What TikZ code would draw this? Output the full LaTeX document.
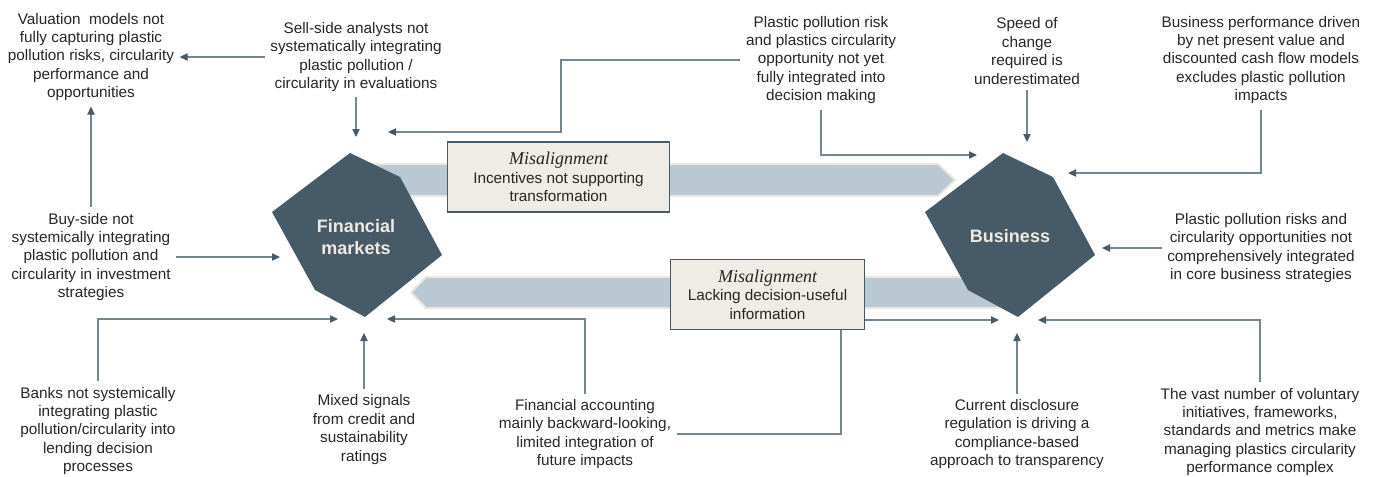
\documentclass[tikz,border=0pt]{standalone}
\usepackage{fontspec}
\setmainfont{Liberation Sans}
\newfontfamily\misfont{Liberation Serif}
\usetikzlibrary{arrows.meta}
\definecolor{hexfill}{HTML}{475A67}
\definecolor{hextext}{HTML}{EEEAE2}
\definecolor{bandfill}{HTML}{B9C8D3}
\definecolor{bandedge}{HTML}{EAE7DF}
\definecolor{boxfill}{HTML}{EFEBE5}
\definecolor{boxedge}{HTML}{475A67}
\definecolor{linecol}{HTML}{74878F}
\definecolor{arrowcol}{HTML}{475A67}
\definecolor{textcol}{HTML}{262626}

\begin{document}
\begin{tikzpicture}[x=0.75pt,y=-0.75pt]
                \tikzstyle{txt}=[align=center, text=textcol, font=\fontsize{11.5}{13.8}\selectfont, inner sep=4pt]
                \tikzstyle{conn}=[draw=linecol, line width=0.8pt, -{Triangle[length=6pt,width=5.5pt,color=arrowcol]}]
                \tikzstyle{hexlabel}=[align=center, text=hextext, font=\bfseries\fontsize{13.5}{16}\selectfont]
                \tikzstyle{misbox}=[draw=boxedge, fill=boxfill, line width=0.9pt, align=center, text=textcol, font=\fontsize{11.5}{13.8}\selectfont]
                \tikzstyle{band}=[draw=bandedge, fill=bandfill, line width=1.5pt]
                \useasboundingbox (0,0) rectangle (1375,476);
                % bands
                \draw[band] (360,164) -- (938,164) -- (955,180) -- (938,196) -- (360,196) -- cycle;
                \draw[band] (426,277) -- (1003,277) -- (1003,308) -- (426,308) -- (411,292.5) -- cycle;
                % hexagons
                \fill[hexfill] (272,212) -- (350,153) -- (400,177) -- (442,255) -- (365,317) -- (315,290) -- cycle;
                \node[hexlabel] (fin) at (356,237) {Financial\\markets};
                \fill[hexfill] (925,212) -- (1003,153) -- (1053,177) -- (1095,255) -- (1018,317) -- (968,290) -- cycle;
                \node[hexlabel] (bus) at (1010,236) {Business};
                % texts
                \node[txt] (val) at (91,57) {Valuation\ \ models not\\fully capturing plastic\\pollution risks, circularity\\performance and\\opportunities};
                \node[txt] (sell) at (356,57) {Sell-side analysts not\\systematically integrating\\plastic pollution /\\circularity in evaluations};
                \node[txt] (ppr) at (821,60) {Plastic pollution risk\\and plastics circularity\\opportunity not yet\\fully integrated into\\decision making};
                \node[txt] (speed) at (1027,51) {Speed of\\change\\required is\\underestimated};
                \node[txt] (bperf) at (1261,60) {Business performance driven\\by net present value and\\discounted cash flow models\\excludes plastic pollution\\impacts};
                \node[txt] (buy) at (91,257) {Buy-side not\\systemically integrating\\plastic pollution and\\circularity in investment\\strategies};
                \node[txt] (pprisk) at (1261,248) {Plastic pollution risks and\\circularity opportunities not\\comprehensively integrated\\in core business strategies};
                \node[txt] (banks) at (98,431) {Banks not systemically\\integrating plastic\\pollution/circularity into\\lending decision\\processes};
                \node[txt] (mixed) at (364,429.5) {Mixed signals\\from credit and\\sustainability\\ratings};
                \node[txt] (facc) at (585,434) {Financial accounting\\mainly backward-looking,\\limited integration of\\future impacts};
                \node[txt] (disc) at (1017,434) {Current disclosure\\regulation is driving a\\compliance-based\\approach to transparency};
                \node[txt] (vast) at (1260,432) {The vast number of voluntary\\initiatives, frameworks,\\standards and metrics make\\managing plastics circularity\\performance complex};
                % arrow ends
                \coordinate (fin-n) at (356,137);
                \coordinate (fin-ne) at (388,132);
                \coordinate (fin-w) at (280,257);
                \coordinate (fin-sw) at (338,319);
                \coordinate (fin-s) at (364,333);
                \coordinate (fin-se) at (387,319);
                \coordinate (bus-nw) at (977,155);
                \coordinate (bus-n) at (1027,142);
                \coordinate (bus-ne) at (1068,173);
                \coordinate (bus-e) at (1102,248);
                \coordinate (bus-sw) at (999,320);
                \coordinate (bus-s) at (1017,333);
                \coordinate (bus-se) at (1038,320);
                \coordinate (ppr-bend) at (561,132);
                \coordinate (facc-bend) at (841,320);
                % connectors
                \draw[conn] (sell.west) -- (val.east);
                \draw[conn] (sell.south) -- (fin-n);
                \draw[conn] (buy.north) -- (val.south);
                \draw[conn] (buy.east) -- (fin-w);
                \draw[conn] (ppr.west) -| (ppr-bend) -- (fin-ne);
                \draw[conn] (ppr.south) |- (bus-nw);
                \draw[conn] (speed.south) -- (bus-n);
                \draw[conn] (bperf.south) |- (bus-ne);
                \draw[conn] (pprisk.west) -- (bus-e);
                \draw[conn] (banks.north) |- (fin-sw);
                \draw[conn] (mixed.north) -- (fin-s);
                \draw[conn] (facc.north) |- (fin-se);
                \draw[conn] (facc.east) -| (facc-bend) -- (bus-sw);
                \draw[conn] (disc.north) -- (bus-s);
                \draw[conn] (vast.north) |- (bus-se);
                % misalignment boxes
                \node[misbox, minimum width=167pt, minimum height=52.5pt] (incent) at (558.5,177) {{\misfont\itshape\fontsize{13.5}{15}\selectfont Misalignment}\\Incentives not supporting\\transformation};
                \node[misbox, minimum width=146pt, minimum height=53pt] (lack) at (767.5,294.5) {{\misfont\itshape\fontsize{13.5}{15}\selectfont Misalignment}\\Lacking decision-useful\\information};
            \end{tikzpicture}
\end{document}
